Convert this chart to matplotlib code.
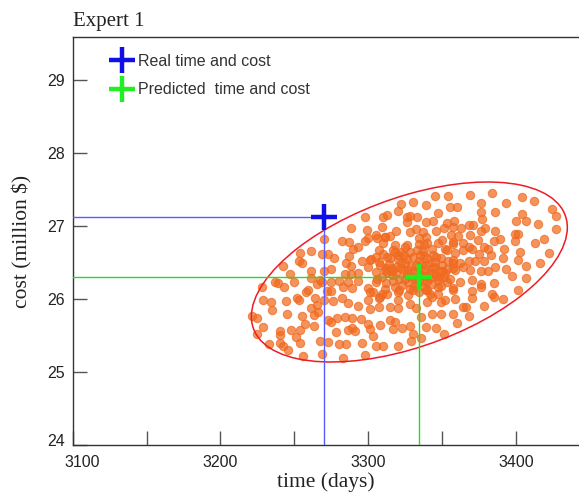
import numpy as np
import matplotlib
matplotlib.use("Agg")
import matplotlib.pyplot as plt
import matplotlib.transforms as mtransforms
from matplotlib.patches import Ellipse
from matplotlib.lines import Line2D


# ==========================
# Dati
# ==========================

# simulazioni Monte Carlo (giorni, milioni di $)
sim_time = [
    3288, 3270, 3282, 3287, 3290, 3261, 3254, 3269, 3273, 3277, 3287, 3253, 3255, 3285, 3288,
    3242, 3275, 3270, 3261, 3247, 3284, 3288,
    3237, 3239, 3250, 3261, 3265, 3269, 3275, 3280, 3283, 3286, 3289, 3272, 3275, 3259, 3258,
    3252, 3253, 3264, 3270, 3276, 3282, 3286, 3229, 3234, 3244, 3235, 3265, 3261, 3266, 3263,
    3255, 3245, 3221, 3225, 3273, 3275, 3279, 3284, 3289, 3257, 3263, 3229, 3225, 3240, 3248,
    3251, 3278, 3286, 3289, 3267, 3273, 3280, 3285, 3233, 3240, 3242, 3254, 3246, 3269, 3256,
    3283, 3228, 3243, 3240, 3254, 3267,
    3345, 3354, 3330, 3339, 3322, 3320, 3355, 3360, 3347, 3298, 3310, 3313, 3326, 3328, 3333,
    3326, 3339, 3344, 3353, 3358, 3309, 3299, 3319, 3328, 3332, 3337, 3346, 3351, 3357, 3363,
    3305, 3311, 3315, 3339, 3356, 3361, 3298, 3310, 3318, 3326, 3334, 3340, 3347, 3357, 3364,
    3293, 3307, 3317, 3322, 3333, 3343, 3352, 3359, 3364, 3296, 3302, 3307, 3313, 3320, 3338,
    3349, 3357, 3362, 3300, 3312, 3359, 3293, 3305, 3316, 3353,
    3369, 3384, 3376, 3393, 3404, 3412, 3424, 3376, 3386, 3404, 3427, 3377, 3400, 3407, 3415,
    3371, 3368, 3427, 3379, 3376, 3386, 3399, 3401, 3399, 3389, 3385, 3374, 3369, 3419, 3413,
    3368, 3378, 3381, 3392, 3370, 3403, 3422, 3375, 3383, 3391, 3401, 3416, 3372, 3378, 3368,
    3386, 3393, 3407, 3381, 3369, 3376,
    3370, 3376, 3376, 3385, 3397, 3407, 3370, 3384, 3385, 3391, 3401, 3370, 3378, 3368, 3366,
    3293, 3300, 3303, 3309, 3313, 3320, 3334, 3340, 3347, 3357, 3359, 3364, 3293, 3300, 3307,
    3301, 3307, 3315, 3320, 3328, 3332, 3340, 3349, 3295, 3308, 3315, 3318, 3323, 3328, 3336,
    3343, 3349, 3357, 3360, 3300, 3301, 3317, 3330, 3336, 3339, 3346, 3351, 3303, 3296, 3305,
    3310, 3320, 3329, 3298, 3291,
    3310, 3314, 3316, 3312, 3318, 3311, 3309, 3320, 3322, 3321, 3323, 3319, 3324, 3325, 3326,
    3327, 3328, 3329, 3330, 3331, 3332, 3333, 3334, 3335, 3336, 3337, 3338, 3339, 3340, 3341,
    3342, 3343, 3344, 3345, 3346, 3347, 3348, 3349, 3350, 3351, 3352, 3353, 3327, 3322, 3317,
    3332, 3338, 3343, 3336, 3329, 3334, 3340, 3331, 3325, 3319, 3313, 3345, 3348, 3341, 3326,
    3335, 3344, 3315, 3330, 3321, 3339, 3347, 3355, 3357, 3354, 3308, 3306, 3305, 3311, 3342,
    3328, 3318, 3337, 3346, 3333, 3324, 3339, 3350, 3316,
    3300, 3306, 3311, 3325, 3334, 3338, 3350, 3357, 3301, 3305, 3301, 3308, 3320, 3327, 3343,
    3352, 3357, 3362, 3364, 3357, 3353,
]

sim_cost = [
    26.97, 26.82, 26.79, 26.78, 26.68, 26.66, 26.63, 26.61, 26.61, 26.56, 26.59, 26.52, 26.49, 26.49, 26.45,
    26.45, 26.41, 26.38, 26.38, 26.34, 26.34, 26.34,
    26.23, 26.22, 26.23, 26.29, 26.21, 26.23, 26.23, 26.25, 26.16, 26.23, 26.15, 26.11, 26.11, 26.12, 26.10,
    26.01, 25.99, 26.01, 25.99, 25.97, 26.01, 25.95, 25.99, 25.96, 25.97, 25.85, 25.92, 25.88, 25.82, 25.78,
    25.77, 25.79, 25.77, 25.74, 25.71, 25.68, 25.74, 25.75, 25.74, 25.66, 25.63, 25.62, 25.52, 25.56, 25.58,
    25.48, 25.55, 25.58, 25.60, 25.42, 25.41, 25.38, 25.38, 25.38, 25.40, 25.36, 25.40, 25.30, 25.25, 25.22,
    25.19, 26.17, 26.16, 25.51, 25.57, 26.26,
    27.41, 27.41, 27.33, 27.29, 27.30, 27.21, 27.26, 27.26, 27.18, 27.12, 27.12, 27.15, 27.12, 27.14, 27.12,
    27.05, 27.05, 27.07, 27.04, 27.07, 26.99, 26.95, 26.93, 26.92, 26.96, 26.92, 26.93, 26.97, 26.99, 26.97,
    26.88, 26.85, 26.86, 26.85, 26.88, 26.86, 26.79, 26.77, 26.74, 26.74, 26.75, 26.77, 26.77, 26.75, 26.77,
    26.71, 26.67, 26.67, 26.64, 26.67, 26.68, 26.68, 26.63, 26.67, 26.52, 26.55, 26.51, 26.58, 26.60, 26.60,
    26.56, 26.49, 26.49, 26.44, 26.42, 26.40, 26.36, 26.37, 26.38, 26.41,
    27.42, 27.45, 27.32, 27.32, 27.40, 27.34, 27.23, 27.19, 27.19, 27.16, 27.14, 27.10, 27.07, 27.07, 27.03,
    27.01, 27.01, 26.96, 26.97, 26.93, 26.93, 26.89, 26.89, 26.79, 26.82, 26.79, 26.81, 26.88, 26.82, 26.77,
    26.71, 26.71, 26.68, 26.68, 26.68, 26.64, 26.63, 26.62, 26.60, 26.56, 26.53, 26.49, 26.52, 26.52, 26.52,
    26.44, 26.41, 26.45, 26.38, 26.40, 26.38,
    26.26, 26.21, 26.16, 26.22, 26.32, 26.29, 26.11, 26.07, 26.03, 26.00, 26.12, 26.01, 25.90, 25.77, 25.89,
    26.25, 26.15, 26.10, 26.07, 26.07, 26.10, 26.10, 26.12, 26.07, 26.12, 26.00, 25.89, 25.90, 25.99, 26.01,
    25.86, 25.89, 25.89, 25.88, 25.93, 25.88, 25.96, 25.96, 25.73, 25.64, 25.71, 25.68, 25.60, 25.63, 25.75,
    25.79, 25.79, 25.79, 25.67, 25.66, 25.59, 25.59, 25.52, 25.47, 25.61, 25.60, 25.52, 25.49, 25.40, 25.36,
    25.36, 25.36, 25.42, 25.23, 25.56,
    26.62, 26.48, 26.33, 26.22, 26.16, 26.40, 26.30, 26.55, 26.42, 26.27, 26.19, 26.36, 26.60, 26.50, 26.34,
    26.23, 26.14, 26.45, 26.58, 26.38, 26.28, 26.20, 26.52, 26.41, 26.33, 26.25, 26.16, 26.47, 26.56, 26.36,
    26.29, 26.21, 26.43, 26.51, 26.32, 26.26, 26.39, 26.18, 26.46, 26.30, 26.36, 26.23, 26.40, 26.50, 26.25,
    26.46, 26.40, 26.35, 26.48, 26.30, 26.26, 26.24, 26.18, 26.28, 26.44, 26.37, 26.44, 26.30, 26.50, 26.55,
    26.60, 26.60, 26.56, 26.13, 26.12, 26.12, 26.16, 26.28, 26.42, 26.52, 26.46, 26.27, 26.57, 26.14, 26.07,
    26.64, 26.65, 26.66, 26.58, 26.36, 26.38, 26.32, 26.38, 26.42,
    26.84, 26.84, 26.85, 26.71, 26.84, 26.74, 26.81, 26.78, 26.53, 26.23, 26.10, 26.03, 25.99, 26.05, 26.03,
    25.99, 26.15, 26.23, 26.44, 26.53, 26.67,
]

# valori reali e previsti
real_time, real_cost = 3270, 27.12
pred_time, pred_cost = 3334, 26.30

# ellisse di confidenza: centro, deviazioni e correlazione
ell_center = (3327.8, 26.37)
ell_sd_time = 106.9
ell_sd_cost = 1.233
ell_rho = 0.495

x_lim = (3100, 3442.6)
y_lim = (24, 29.59)
x_major = [3100, 3200, 3300, 3400]
x_minor = [3150, 3250, 3350]
y_major = [24, 25, 26, 27, 28, 29]


# ==========================
# Figura
# ==========================

serif = ["Liberation Serif", "DejaVu Serif"]
sans = ["Liberation Sans", "DejaVu Sans"]

fig = plt.figure(figsize=(5.79, 4.94), dpi=100)
ax = fig.add_axes([0.1256, 0.0992, 0.8744, 0.826])

ax.scatter(sim_time, sim_cost, s=36, color="#F26A1F", alpha=0.72,
           edgecolors="#EE6A20", linewidths=0.8, zorder=2)

# ellisse
cov = np.array([[ell_sd_time ** 2, ell_rho * ell_sd_time * ell_sd_cost],
                [ell_rho * ell_sd_time * ell_sd_cost, ell_sd_cost ** 2]])
vals, vecs = np.linalg.eigh(cov)
angle = np.degrees(np.arctan2(vecs[1, 1], vecs[0, 1]))
ell = Ellipse(ell_center, width=2 * np.sqrt(vals[1]), height=2 * np.sqrt(vals[0]),
              angle=angle, facecolor="none", edgecolor="#EE1C25", linewidth=1.1, zorder=3)
ax.add_patch(ell)

# linee guida
ax.plot([x_lim[0], real_time], [real_cost, real_cost], color="#5A5AFF", lw=1.0, zorder=4)
ax.plot([real_time, real_time], [y_lim[0], real_cost], color="#5A5AFF", lw=1.0, zorder=4)
ax.plot([x_lim[0], pred_time], [pred_cost, pred_cost], color="#22DD22", lw=1.0, zorder=4)
ax.plot([pred_time, pred_time], [y_lim[0], pred_cost], color="#22DD22", lw=1.0, zorder=4)

ax.plot(real_time, real_cost, marker="+", color="#1010E6", ms=19, mew=3.2, ls="none", zorder=5)
ax.plot(pred_time, pred_cost, marker="+", color="#22EE22", ms=19, mew=3.2, ls="none", zorder=5)

handles = [
    Line2D([], [], marker="+", color="#1010E6", ms=19, mew=3.2, ls="none"),
    Line2D([], [], marker="+", color="#22EE22", ms=19, mew=3.2, ls="none"),
]
ax.legend(handles, ["Real time and cost", "Predicted  time and cost"],
          loc="upper left", bbox_to_anchor=(0.053, 0.986), frameon=False,
          prop={"family": sans, "size": 11.5}, labelcolor="#333333",
          handlelength=1.4, handletextpad=0.3, labelspacing=0.83, borderpad=0.2)

ax.set_xlim(*x_lim)
ax.set_ylim(*y_lim)
ax.set_xticks(x_major)
ax.set_xticks(x_minor, minor=True)
ax.set_yticks(y_major)

ax.tick_params(which="both", direction="in", length=10, width=1, color="#555555",
               labelsize=11.5, labelcolor="#222222")
ax.tick_params(axis="y", pad=5.5)
ax.tick_params(axis="x", pad=7)
for lab in ax.get_xticklabels() + ax.get_yticklabels():
    lab.set_family(sans)

# primo tick spostato come nell'originale
t0 = ax.xaxis.get_major_ticks()[0].label1
t0.set_transform(t0.get_transform() + mtransforms.ScaledTranslation(9 / 100, 0, fig.dpi_scale_trans))
y0 = ax.yaxis.get_major_ticks()[0].label1
y0.set_transform(y0.get_transform() + mtransforms.ScaledTranslation(0, 5 / 100, fig.dpi_scale_trans))

for side in ["left", "bottom", "top"]:
    ax.spines[side].set_color("#333333")
    ax.spines[side].set_linewidth(1.0)
ax.spines["right"].set_visible(False)

ax.set_xlabel("time (days)", family=serif, fontsize=15.5, color="#222222", labelpad=2)
ax.set_ylabel("cost (million $)", family=serif, fontsize=15.5, color="#222222", labelpad=11)
ax.set_title("Expert 1", loc="left", family=serif, fontsize=15, color="#222222", pad=8)

fig.savefig("out.png", dpi=100)
